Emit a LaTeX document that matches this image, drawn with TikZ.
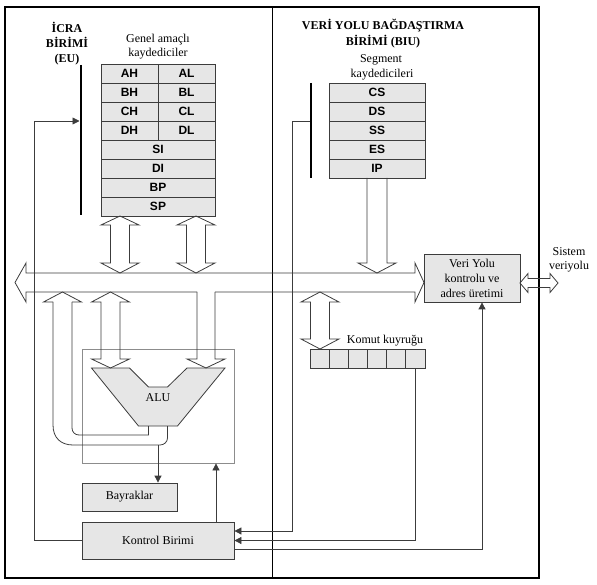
\documentclass[tikz,border=0pt]{standalone}
\usepackage{fontspec}
\setmainfont{Liberation Serif}
\newfontfamily\regfont{Liberation Sans}
\usetikzlibrary{arrows.meta}
\definecolor{boxfill}{RGB}{230,230,230}
\definecolor{lineclr}{RGB}{60,60,60}
\definecolor{lightln}{RGB}{140,140,140}
\tikzset{
 reg/.style={draw=lineclr, fill=boxfill, line width=0.8pt, inner sep=0pt, minimum height=19pt, font=\fontsize{12}{14}\selectfont\regfont\bfseries},
 halfreg/.style={reg, minimum width=57pt},
 fullreg/.style={reg, minimum width=114pt},
 segreg/.style={reg, minimum width=96pt},
 qcell/.style={draw=lineclr, fill=boxfill, line width=0.8pt, inner sep=0pt, minimum width=19.17pt, minimum height=19pt},
 unitbox/.style={draw=lineclr, fill=boxfill, line width=0.8pt, inner sep=0pt, font=\fontsize{12}{15}\selectfont, align=center},
 conn/.style={draw=lineclr, line width=0.8pt},
 wide/.style={draw=lineclr, line width=0.8pt},
 tip/.style={-{Triangle[length=7pt,width=7pt]}},
 frame/.style={line width=1.8pt, draw=black},
 thickbar/.style={line width=2.6pt, draw=black},
 lbl/.style={font=\fontsize{12}{15}\selectfont, inner sep=0pt, anchor=base},
 headlbl/.style={font=\fontsize{12}{15}\selectfont\bfseries, inner sep=0pt, anchor=base},
}
\begin{document}
\begin{tikzpicture}[x=1pt,y=-1pt]
\useasboundingbox (0,0) rectangle (597,585);
% frames
\draw[frame] (5,7) rectangle (272.5,578);
\draw[frame] (272.5,7) rectangle (539,578);

% titles
\node[headlbl] (eu1) at (67,33) {İCRA};
\node[headlbl] (eu2) at (67,48) {BİRİMİ};
\node[headlbl] (eu3) at (67,63) {(EU)};
\node[lbl] (gen1) at (158,43) {Genel amaçlı};
\node[lbl] (gen2) at (158,57) {kaydediciler};
\node[headlbl] (biu1) at (383,30) {VERİ YOLU BAĞDAŞTIRMA};
\node[headlbl] (biu2) at (383,46) {BİRİMİ (BIU)};
\node[lbl] (seg1) at (381,63) {Segment};
\node[lbl] (seg2) at (382,78) {kaydedicileri};
\node[lbl] (sis1) at (569,256) {Sistem};
\node[lbl] (sis2) at (569,270) {veriyolu};
\node[lbl] (kq) at (385,344) {Komut kuyruğu};

% thick bars
\draw[thickbar] (81,65) -- (81,215);
\draw[thickbar] (311,83) -- (311,178);
\coordinate (eutap) at (79.5,121);
\coordinate (biutap) at (310,121);

% general registers
\node[halfreg] (ah) at (129.5,73.5) {AH};
\node[halfreg] (al) at (186.5,73.5) {AL};
\node[halfreg] (bh) at (129.5,92.5) {BH};
\node[halfreg] (bl) at (186.5,92.5) {BL};
\node[halfreg] (ch) at (129.5,111.5) {CH};
\node[halfreg] (cl) at (186.5,111.5) {CL};
\node[halfreg] (dh) at (129.5,130.5) {DH};
\node[halfreg] (dl) at (186.5,130.5) {DL};
\node[fullreg] (si) at (158,149.5) {SI};
\node[fullreg] (di) at (158,168.5) {DI};
\node[fullreg] (bp) at (158,187.5) {BP};
\node[fullreg] (sp) at (158,206.5) {SP};

% segment registers
\node[segreg] (cs) at (377,92.5) {CS};
\node[segreg] (ds) at (377,111.5) {DS};
\node[segreg] (ss) at (377,130.5) {SS};
\node[segreg] (es) at (377,149.5) {ES};
\node[segreg] (ip) at (377,168.5) {IP};

% instruction queue
\foreach \i in {1,...,6} {
  \node[qcell] (q\i) at ({310+19.17*(\i-0.5)},358.5) {};
}

% bus control unit
\node[unitbox, minimum width=96pt, minimum height=48pt] (vy) at (472,278) {Veri Yolu\\kontrolu ve\\adres üretimi};

% ALU enclosure
\node[draw=lightln, line width=0.8pt, minimum width=152pt, minimum height=114pt, inner sep=0pt] (alubox) at (158,406) {};
\node[unitbox, minimum width=95pt, minimum height=28pt] (bay) at (129.5,497) {Bayraklar};
\node[unitbox, minimum width=152pt, minimum height=37pt] (kon) at (158,540.5) {Kontrol Birimi};

% ALU shape
\draw[wide, fill=boxfill] (91.5,368) -- (129.5,368) -- (148.5,387) -- (167.5,387) -- (187,368) -- (225,368) -- (177.5,426) -- (138.5,426) -- cycle;
\node[font=\fontsize{12}{15}\selectfont, inner sep=0pt] (alu) at (158,398) {ALU};

% main internal bus
\draw[wide] (197,292) -- (26,292) -- (26,302) -- (15,282.5) -- (26,263) -- (26,273) -- (415,273) -- (415,263) -- (424,282.5) -- (415,302) -- (415,292) -- (215,292);

% register <-> bus double arrows
\foreach \c in {120,196} {
  \draw[wide] (\c,216) -- (\c+19,225) -- (\c+9.5,225) -- (\c+9.5,263) -- (\c+19,263) -- (\c,273) -- (\c-19,263) -- (\c-9.5,263) -- (\c-9.5,225) -- (\c-19,225) -- cycle;
}
% segment registers -> bus
\draw[wide] (367,178) -- (367,263) -- (358,263) -- (377,273) -- (396,263) -- (387,263) -- (387,178);
% bus <-> queue
\draw[wide] (320,292) -- (339,302) -- (329.5,302) -- (329.5,339) -- (339,339) -- (320,349) -- (301,339) -- (310.5,339) -- (310.5,302) -- (301,302) -- cycle;
% bus <-> ALU left input
\draw[wide] (110.5,292) -- (129.5,302) -- (120,302) -- (120,359) -- (129.5,359) -- (110.5,368) -- (91.5,359) -- (101,359) -- (101,302) -- (91.5,302) -- cycle;
% bus -> ALU right input
\draw[wide] (197,292) -- (197,359) -- (187,359) -- (206,368) -- (225,359) -- (215,359) -- (215,292);
% ALU output -> bus
\draw[wide] (72,302) -- (81.5,302) -- (62.5,292) -- (43.5,302) -- (53,302);
\draw[wide] (53,302) -- (53,425) .. controls (53,438) and (61,445) .. (73,445) -- (160,445) .. controls (164,445) and (167.5,442) .. (167.5,438) -- (167.5,426);
\draw[wide] (72,302) -- (72,428) .. controls (72,432) and (75,435) .. (79,435) -- (148.5,435) -- (148.5,426);
\coordinate (aluout) at (158,445);

% system bus double arrow
\draw[wide] (520,283) -- (528,273.5) -- (528,278.5) -- (550,278.5) -- (550,273.5) -- (558,283) -- (550,292.5) -- (550,287.5) -- (528,287.5) -- (528,292.5) -- cycle;

% thin connectors
\draw[conn, tip] (aluout) -- (aluout |- bay.north);
\draw[conn, tip] ([xshift=58pt]kon.north) -- ([xshift=58pt]alubox.south);
\draw[conn, tip] (kon.west) -- (34.5,540.5) -- (34.5,121) -- (eutap);
\draw[conn, tip] (biutap) -- (292,121) -- (292,531) -- ([yshift=9.5pt]kon.east);
\draw[conn, tip] (q6.south) |- (kon.east);
\draw[conn, tip] ([yshift=-8.5pt]kon.east) -| ([xshift=10pt]vy.south);
\end{tikzpicture}
\end{document}
